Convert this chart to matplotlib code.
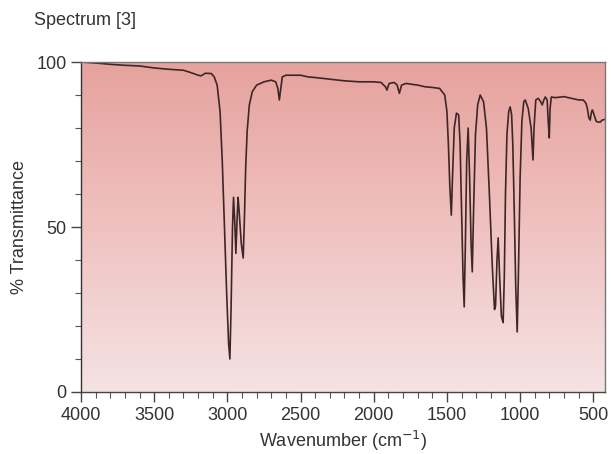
#-*- coding: utf-8 -*-

"""
  IR spectrum [3] : % transmittance vs wavenumber
"""

import numpy as np
import matplotlib.pyplot as plt
from matplotlib.colors import LinearSegmentedColormap
from matplotlib.ticker import MultipleLocator

plt.rcParams['font.family'] = ['Liberation Sans', 'DejaVu Sans']

# Values
wavenumber = [4000, 3900, 3800, 3700, 3600, 3500, 3400, 3300, 3250, 3200,
              3180, 3150, 3110, 3090, 3070, 3050, 3035, 3020, 3005, 2992,
              2983, 2975, 2965, 2958, 2950, 2942, 2934, 2927, 2920, 2905,
              2892, 2884, 2875, 2865, 2850, 2830, 2800, 2750, 2700, 2670,
              2655, 2645, 2638, 2625, 2600, 2500, 2450, 2400, 2300, 2200,
              2100, 2000, 1950, 1920, 1910, 1895, 1860, 1840, 1825, 1810,
              1780, 1700, 1650, 1600, 1550, 1515, 1500, 1490, 1480, 1470,
              1462, 1450, 1435, 1420, 1410, 1400, 1390, 1382, 1374, 1365,
              1355, 1345, 1335, 1327, 1318, 1305, 1290, 1273, 1250, 1230,
              1210, 1190, 1175, 1168, 1158, 1150, 1140, 1128, 1116, 1108,
              1100, 1090, 1078, 1068, 1058, 1050, 1040, 1030, 1020, 1012,
              1000, 988, 975, 965, 945, 925, 912, 905, 893, 876,
              860, 849, 838, 828, 815, 808, 801, 795, 787, 760,
              700, 650, 600, 569, 550, 541, 530, 521, 514, 507,
              498, 480, 465, 452, 440, 420]
transmittance = [100, 99.7, 99.3, 99.0, 98.8, 98.2, 97.8, 97.5, 96.8, 96.0,
                 95.8, 96.6, 96.5, 95.5, 93, 85, 70, 50, 30, 15,
                 10, 25, 50, 59, 52, 42, 52, 59, 55, 45,
                 40.6, 52, 68, 79, 87, 91, 93, 94, 94.5, 94,
                 92, 88.5, 91, 95.5, 96, 96, 95.5, 95.3, 94.8, 94.3,
                 94.0, 94.0, 93.8, 92.5, 91.5, 93.5, 93.8, 93, 90.5, 93,
                 93.5, 93, 92.5, 92.3, 92, 90, 85, 75, 62, 53.6,
                 65, 80, 84.5, 84, 75, 55, 35, 25.8, 45, 70,
                 80, 65, 45, 36.4, 55, 78, 87, 90, 88, 80,
                 60, 38, 25, 26, 40, 46.7, 35, 23, 21, 35,
                 60, 78, 85, 86.4, 84, 75, 55, 32, 18.2, 35,
                 65, 82, 88, 88.5, 86, 80, 70.3, 80, 88.5, 89,
                 88, 87, 88.5, 89.4, 88.5, 82, 77, 86, 89.4, 89.2,
                 89.5, 89, 88.5, 88.5, 87.5, 86, 83, 82.4, 84.5, 85.5,
                 84.5, 82, 81.8, 81.8, 82.4, 82.6]

xticks = [4000, 3500, 3000, 2500, 2000, 1500, 1000, 500]
yticks = [0, 50, 100]

fig = plt.figure(figsize=(6.11, 4.54), dpi=100)
ax = fig.add_axes([0.1326, 0.1366, 0.8576, 0.7268])

# pink gradient background
cmap = LinearSegmentedColormap.from_list('bg', ['#f5e2e4', '#efc2c0', '#e6a29d'])
grad = np.linspace(0, 1, 256).reshape(-1, 1)
ax.imshow(grad, cmap=cmap, aspect='auto', origin='lower',
          extent=[4000, 420, 0, 100], zorder=0)

ax.plot(wavenumber, transmittance, color='#3f2626', linewidth=1.2, zorder=2)

ax.set_xlim(4000, 420)
ax.set_ylim(0, 100)
ax.set_xticks(xticks)
ax.set_yticks(yticks)
ax.xaxis.set_minor_locator(MultipleLocator(100))
ax.yaxis.set_minor_locator(MultipleLocator(10))
ax.tick_params(axis='both', which='major', direction='out', length=7,
               width=1, color='#444444', labelsize=13, labelcolor='#333333')
ax.tick_params(axis='both', which='minor', direction='out', length=4,
               width=0.8, color='#555555')
for s in ax.spines.values():
    s.set_color('#777777')
    s.set_linewidth(1.0)
ax.spines['left'].set_color('#333333')
ax.spines['bottom'].set_color('#444444')

ax.set_xlabel('Wavenumber (cm$^{-1}$)', fontsize=13, color='#333333', labelpad=4)
ax.set_ylabel('% Transmittance', fontsize=13, color='#333333', labelpad=6)
fig.text(0.055, 0.955, 'Spectrum [3]', fontsize=13, color='#333333',
         ha='left', va='center')

plt.savefig('out.png', dpi=100)
